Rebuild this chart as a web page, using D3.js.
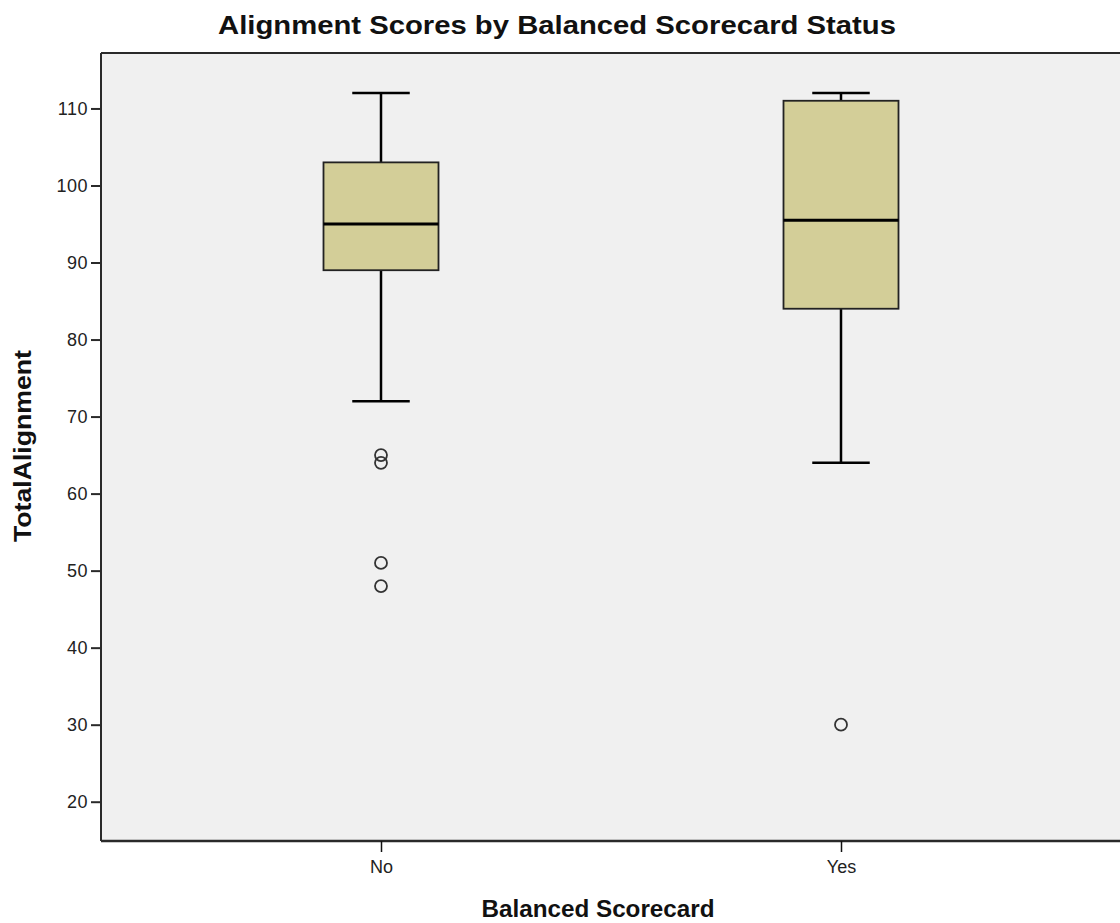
<!DOCTYPE html>
<html>
<head>
<meta charset="utf-8">
<script src="https://cdn.jsdelivr.net/npm/d3@7"></script>
<style>
  html, body { margin: 0; padding: 0; background: #ffffff; }
  svg { display: block; font-family: "Liberation Sans", Arial, sans-serif; }
</style>
</head>
<body>
<svg id="chart" width="1120" height="923"></svg>
<script>
// Group labels on the x axis
const categories = ["No", "Yes"];
// Five-number summaries per group: lower whisker, Q1, median, Q3, upper whisker
const whiskerLow = [72, 64];
const q1 = [89, 84];
const median = [95, 95.5];
const q3 = [103, 111];
const whiskerHigh = [112, 112];
// Individual outlying cases per group
const outliers = [[65, 64, 51, 48], [30]];
// Y axis tick values
const yTicks = [20, 30, 40, 50, 60, 70, 80, 90, 100, 110];

const svg = d3.select("#chart");
const plot = { left: 101, right: 1121, top: 53, bottom: 841 };

const y = d3.scaleLinear().domain([14.9, 117.2]).range([plot.bottom, plot.top]);
const x = d3.scalePoint().domain(categories).range([plot.left, plot.right]).padding(0.6087);
const step = x.step();
const boxW = step * 0.25;
const capW = boxW * 0.5;

// Plot background
svg.append("rect")
  .attr("x", plot.left).attr("y", plot.top)
  .attr("width", plot.right - plot.left).attr("height", plot.bottom - plot.top)
  .attr("fill", "#f0f0f0");

// Frame: top edge
svg.append("line").attr("x1", plot.left).attr("x2", plot.right)
  .attr("y1", plot.top).attr("y2", plot.top)
  .attr("stroke", "#2a2a2a").attr("stroke-width", 2);

// Y axis
const yAxis = d3.axisLeft(y).tickValues(yTicks).tickSize(10).tickPadding(3);
const gy = svg.append("g").attr("transform", `translate(${plot.left},0)`).call(yAxis);
gy.select(".domain").attr("stroke", "#2a2a2a").attr("stroke-width", 2)
  .attr("d", `M0,${plot.top}V${plot.bottom}`);
gy.selectAll(".tick line").attr("stroke", "#2a2a2a").attr("stroke-width", 2);
gy.selectAll(".tick text").attr("font-size", 18).attr("fill", "#222")
  .attr("letter-spacing", 0.5)
  .attr("font-family", "Liberation Sans, Arial, sans-serif");

// X axis
const xAxis = d3.axisBottom(x).tickSize(11).tickPadding(8);
const gx = svg.append("g").attr("transform", `translate(0,${plot.bottom})`).call(xAxis);
gx.select(".domain").attr("stroke", "#2a2a2a").attr("stroke-width", 2.5)
  .attr("d", `M${plot.left},0H${plot.right}`);
gx.selectAll(".tick line").attr("stroke", "#111").attr("stroke-width", 1.5);
gx.selectAll(".tick text").attr("font-size", 18).attr("fill", "#222")
  .attr("font-family", "Liberation Sans, Arial, sans-serif");

// Boxes
const groups = svg.append("g").selectAll("g").data(categories).join("g");

groups.append("line") // whisker stem
  .attr("x1", d => x(d)).attr("x2", d => x(d))
  .attr("y1", (d, i) => y(whiskerLow[i])).attr("y2", (d, i) => y(whiskerHigh[i]))
  .attr("stroke", "#000").attr("stroke-width", 2.5);

groups.selectAll(".cap").data((d, i) => [whiskerLow[i], whiskerHigh[i]].map(v => ({ d, v })))
  .join("line").attr("class", "cap")
  .attr("x1", o => x(o.d) - capW / 2).attr("x2", o => x(o.d) + capW / 2)
  .attr("y1", o => y(o.v)).attr("y2", o => y(o.v))
  .attr("stroke", "#000").attr("stroke-width", 2.5);

groups.append("rect")
  .attr("x", d => x(d) - boxW / 2)
  .attr("y", (d, i) => y(q3[i]))
  .attr("width", boxW)
  .attr("height", (d, i) => y(q1[i]) - y(q3[i]))
  .attr("fill", "#d3ce98").attr("stroke", "#222").attr("stroke-width", 1.8);

groups.append("line") // median
  .attr("x1", d => x(d) - boxW / 2).attr("x2", d => x(d) + boxW / 2)
  .attr("y1", (d, i) => y(median[i])).attr("y2", (d, i) => y(median[i]))
  .attr("stroke", "#000").attr("stroke-width", 3);

groups.selectAll(".outlier").data((d, i) => outliers[i].map(v => ({ d, v })))
  .join("circle").attr("class", "outlier")
  .attr("cx", o => x(o.d)).attr("cy", o => y(o.v)).attr("r", 6)
  .attr("fill", "none").attr("stroke", "#333").attr("stroke-width", 1.8);

// Titles
svg.append("text").attr("x", 557).attr("y", 34).attr("text-anchor", "middle")
  .attr("font-size", 26).attr("font-weight", "bold").attr("fill", "#111")
  .attr("textLength", 678).attr("lengthAdjust", "spacingAndGlyphs")
  .text("Alignment Scores by Balanced Scorecard Status");

svg.append("text").attr("x", 598).attr("y", 917).attr("text-anchor", "middle")
  .attr("font-size", 24).attr("font-weight", "bold").attr("fill", "#111")
  .attr("textLength", 233).attr("lengthAdjust", "spacingAndGlyphs")
  .text("Balanced Scorecard");

svg.append("text").attr("transform", "translate(31,446) rotate(-90)")
  .attr("text-anchor", "middle")
  .attr("font-size", 24).attr("font-weight", "bold").attr("fill", "#111")
  .attr("textLength", 192).attr("lengthAdjust", "spacingAndGlyphs")
  .text("TotalAlignment");
</script>
</body>
</html>
